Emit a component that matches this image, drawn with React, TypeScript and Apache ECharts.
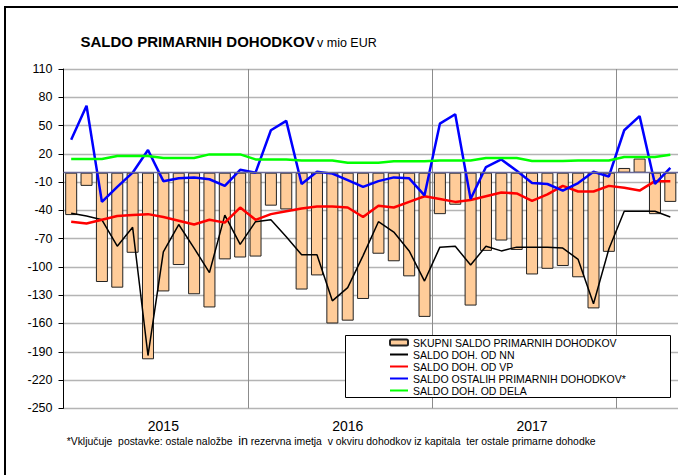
import React, { useEffect, useRef } from 'react';
import * as echarts from 'echarts';

const years = ['2015', '2016', '2017', '2018'];
const monthsPerYear = [12, 12, 12, 4];
const yearLabelMonthIndex = 6;

const skupni = [
  -45, -14, -116, -122, -85, -198, -126, -98, -129, -143, -92, -90,
  -89, -35, -39, -124, -109, -160, -157, -134, -86, -94, -110, -153,
  -44, -34, -141, -83, -72, -82, -108, -102, -99, -111, -144, -84,
  5, 15, -44, -31,
];
const dohNN = [
  -43, -46, -50, -78, -58, -194, -84, -55, -80, -106, -45, -76,
  -52, -50, -68, -87, -87, -136, -122, -88, -52, -63, -83, -115,
  -79, -78, -98, -78, -83, -79, -79, -79, -80, -92, -139, -81,
  -41, -41, -41, -47,
];
const dohVP = [
  -52, -54, -50, -46, -45, -44, -47, -51, -55, -50, -53, -37,
  -50, -44, -41, -38, -36, -36, -37, -47, -35, -37, -31, -25,
  -28, -31, -29, -25, -21, -22, -30, -23, -14, -20, -20, -14,
  -16, -19, -9, -9,
];
const ostali = [
  35, 71, -31, -15, 0, 24, -9, -6, -5, -7, -14, 3,
  0, 45, 55, -12, 1, -1, -8, -15, -9, -5, -6, -24,
  52, 62, -28, 6, 14, 2, -11, -12, -19, -11, 1, -4,
  45, 60, -12, 5,
];
const dela = [
  14.5, 14.5, 14.5, 17.7, 17.7, 17.7, 15.6, 15.6, 15.6, 19.4, 19.4, 19.4,
  14.1, 14.1, 14.1, 13, 13, 13, 10.6, 10.6, 10.6, 12, 12, 12,
  13, 13, 13, 15.6, 15.6, 15.6, 12.4, 12.4, 12.4, 13, 13, 13,
  16.6, 16.6, 16.6, 19,
];

const seriesNames = [
  'SKUPNI SALDO PRIMARNIH DOHODKOV',
  'SALDO DOH. OD NN',
  'SALDO DOH. OD VP',
  'SALDO OSTALIH PRIMARNIH DOHODKOV*',
  'SALDO DOH. OD DELA',
];

const titleMain = 'SALDO PRIMARNIH DOHODKOV';
const titleUnit = 'v mio EUR';
const footnoteA = '*Vključuje  postavke: ostale naložbe  ';
const footnoteB = 'in';
const footnoteC = ' rezervna imetja  v okviru dohodkov iz kapitala  ter ostale primarne dohodke';

const categories: string[] = [];
years.forEach((y, yi) => {
  for (let m = 1; m <= monthsPerYear[yi]; m++) {
    categories.push(`${y}-${m < 10 ? '0' + m : m}`);
  }
});

const FONT = "'Liberation Sans', Arial, sans-serif";

export default function App() {
  const ref = useRef<HTMLDivElement>(null);
  useEffect(() => {
    document.body.style.margin = '0';
    const chart = echarts.init(ref.current!, null, { renderer: 'svg' });
    const lineSeries = (name: string, data: number[], color: string, width: number) => ({
      name,
      type: 'line',
      data,
      symbol: 'none',
      showSymbol: false,
      lineStyle: { color, width },
      itemStyle: { color },
      z: 3,
    });
    chart.setOption({
      animation: false,
      textStyle: { fontFamily: FONT },
      grid: { left: 63.5, right: -3, top: 69, bottom: 66.7 },
      xAxis: {
        type: 'category',
        data: categories,
        boundaryGap: true,
        axisLine: { show: false, onZero: false },
        axisTick: { show: false },
        axisLabel: {
          interval: (i: number) => i % 12 === yearLabelMonthIndex,
          formatter: (v: string) => v.slice(0, 4),
          fontSize: 14,
          color: '#000',
          margin: 11,
          fontFamily: FONT,
        },
        splitLine: {
          show: true,
          interval: (i: number) => i % 12 === 0 && i > 0,
          lineStyle: { color: '#8c8c8c', width: 1 },
        },
      },
      yAxis: {
        type: 'value',
        min: -250,
        max: 110,
        interval: 30,
        axisLine: { show: true, lineStyle: { color: '#000', width: 1 } },
        axisTick: { show: true, length: 5, lineStyle: { color: '#000' } },
        axisLabel: { fontSize: 12.5, color: '#000', margin: 11, fontFamily: FONT },
        splitLine: { show: true, lineStyle: { color: '#b4b4b4', width: 1.3 } },
      },
      legend: {
        orient: 'vertical',
        left: 389,
        top: 336.5,
        itemWidth: 18,
        itemHeight: 6,
        itemGap: 0,
        padding: 0,
        z: 20,
        selectedMode: false,
        textStyle: { fontSize: 10.5, color: '#000', lineHeight: 12, fontFamily: FONT },
        data: seriesNames.map((name, i) =>
          i === 0 ? { name } : { name, itemStyle: { opacity: 0 } }
        ),
      },
      graphic: [
        {
          type: 'rect',
          z: 10,
          shape: { x: 345.5, y: 335.5, width: 325, height: 62 },
          style: { fill: '#fff', stroke: '#000', lineWidth: 1 },
        },
        {
          type: 'rect',
          z: 30,
          shape: { x: 5, y: 7, width: 720, height: 520 },
          style: { fill: 'none', stroke: '#000', lineWidth: 2 },
        },
        {
          type: 'text',
          x: 80.5,
          y: 41.7,
          style: {
            text: titleMain,
            fontSize: 15,
            fontWeight: 'bold',
            fontFamily: FONT,
            fill: '#000',
            verticalAlign: 'middle',
            align: 'left',
          },
        },
        {
          type: 'text',
          x: 317,
          y: 42.5,
          style: {
            text: titleUnit,
            fontSize: 12.5,
            fontFamily: FONT,
            fill: '#000',
            verticalAlign: 'middle',
            align: 'left',
          },
        },
        {
          type: 'text',
          x: 66.7,
          y: 441,
          style: {
            text: `{a|${footnoteA}}{b|${footnoteB}}{a|${footnoteC}}`,
            fontFamily: FONT,
            fill: '#000',
            verticalAlign: 'middle',
            align: 'left',
            rich: {
              a: { fontSize: 10.4, fontFamily: FONT, fill: '#000' },
              b: { fontSize: 12.5, fontFamily: FONT, fill: '#000' },
            },
          },
        },
      ],
      series: [
        {
          name: seriesNames[0],
          type: 'bar',
          data: skupni,
          barWidth: 12,
          itemStyle: { color: '#FFCC99', borderColor: '#222', borderWidth: 1 },
          markLine: {
            silent: true,
            symbol: 'none',
            label: { show: false },
            lineStyle: { color: '#6a6a98', type: 'solid', width: 1.3 },
            data: [{ yAxis: 0 }],
          },
        },
        lineSeries(seriesNames[1], dohNN, '#000000', 1.5),
        lineSeries(seriesNames[2], dohVP, '#FF0000', 2.5),
        lineSeries(seriesNames[3], ostali, '#0000FF', 2.5),
        lineSeries(seriesNames[4], dela, '#00FF00', 2.5),
      ],
    });
    return () => chart.dispose();
  }, []);
  return (
    <div
      ref={ref}
      style={{ width: 678, height: 475, position: 'absolute', left: 0, top: 0, background: '#fff' }}
    />
  );
}
